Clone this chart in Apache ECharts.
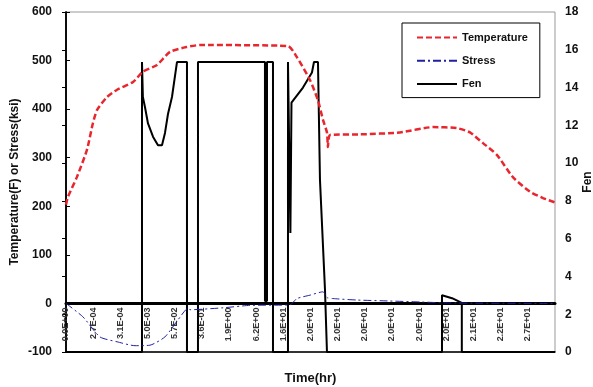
<!DOCTYPE html>
<html>
<head>
<meta charset="utf-8">
<script src="https://cdn.jsdelivr.net/npm/echarts@6/dist/echarts.min.js"></script>
<style>
  html, body { margin: 0; padding: 0; background: #fff; }
  #chart { width: 593px; height: 387px; }
</style>
</head>
<body>
<div id="chart"></div>
<script>
// tick labels of the time axis (one per category step)
const timeLabels = ['0.0E+00', '2.7E-04', '3.1E-04', '5.0E-03', '5.7E-02', '3.6E-01',
  '1.9E+00', '6.2E+00', '1.6E+01', '2.0E+01', '2.0E+01', '2.0E+01', '2.0E+01',
  '2.0E+01', '2.0E+01', '2.1E+01', '2.2E+01', '2.7E+01'];

// [position along time axis (step index), value]
const temperature = [
  [0, 203], [0.07, 219], [0.4, 260], [0.77, 316], [0.99, 371], [1.14, 398],
  [1.51, 425], [1.88, 440], [2.47, 456], [2.83, 477], [3.35, 491], [3.83, 518],
  [4.45, 528], [4.93, 532], [8.17, 530], [8.5, 507], [8.98, 460], [9.27, 419],
  [9.46, 378], [9.61, 351], [9.64, 322], [9.72, 347], [10.82, 348], [12.29, 352],
  [13.51, 363], [14.39, 361], [14.87, 352], [15.35, 330], [15.86, 306],
  [16.45, 260], [17.08, 230], [17.56, 217], [18, 208]
];

const stress = [
  [0, 0], [0.63, -28], [1.25, -69], [1.88, -79], [2.54, -87], [3.09, -86],
  [3.64, -69], [4.12, -34], [4.49, -10], [4.56, -13], [5.78, -9], [6.77, -4],
  [8.24, -3], [8.5, 10], [8.98, 17], [9.46, 24], [9.61, 12], [9.83, 10],
  [10.71, 7], [11.92, 5], [13.03, 3], [14.13, 1], [18, 0]
];

const fen = [
  [0, 0], [2.797, 0], [2.797, 15.35], [2.83, 13.5], [2.908, 12.96], [3.018, 12.1],
  [3.202, 11.4], [3.386, 10.95], [3.533, 10.95], [3.644, 11.6], [3.754, 12.6],
  [3.901, 13.5], [4.085, 15.35], [4.453, 15.35], [4.453, 0], [4.858, 0],
  [4.858, 15.35], [7.324, 15.35], [7.324, 2.7], [7.398, 2.7], [7.398, 15.35],
  [7.619, 15.35], [7.619, 0], [8.171, 0], [8.171, 15.35], [8.23, 15.35],
  [8.26, 6.3], [8.3, 13.2], [8.723, 14.0], [9.054, 14.8],
  [9.128, 15.35], [9.275, 15.35], [9.349, 9.1], [9.533, 3.3], [9.606, 0],
  [13.84, 0], [13.84, 3.0], [14.21, 2.85], [14.57, 2.6], [14.57, 0], [18, 0]
];

const yMin = -100, yMax = 600;
const gridTop = 12, gridBottom = 35, chartH = 387;
// lift the labelled time axis up to the zero line of the left axis
const zeroOffset = -(chartH - gridTop - gridBottom) * (0 - yMin) / (yMax - yMin);

const chart = echarts.init(document.getElementById('chart'));
const axisFont = { color: '#111', fontWeight: 'bold', fontSize: 12, fontFamily: 'Liberation Sans, Arial' };

chart.setOption({
  animation: false,
  textStyle: { fontFamily: 'Liberation Sans, Arial' },
  grid: {
    left: 66, right: 38, top: gridTop, bottom: gridBottom,
    outerBoundsMode: 'none',
    containLabel: false,
    show: true, borderColor: '#999', borderWidth: 1
  },
  legend: {
    orient: 'vertical',
    left: 402, top: 23,
    padding: [9, 12, 8, 14],
    itemGap: 12,
    itemWidth: 40, itemHeight: 14,
    borderColor: '#000', borderWidth: 1,
    backgroundColor: '#fff',
    itemStyle: { opacity: 0 },
    textStyle: { color: '#111', fontWeight: 'bold', fontSize: 11 },
    data: ['Temperature', 'Stress', 'Fen']
  },
  xAxis: [
    {
      type: 'value',
      min: 0, max: 18, interval: 1,
      position: 'bottom',
      offset: zeroOffset,
      name: 'Time(hr)',
      nameLocation: 'middle',
      nameGap: 68,
      nameMoveOverlap: false,
      nameTextStyle: { color: '#111', fontWeight: 'bold', fontSize: 13 },
      axisLine: { onZero: false, lineStyle: { color: '#000', width: 3 } },
      axisTick: { show: false },
      splitLine: { show: false },
      axisLabel: {
        rotate: 90, fontSize: 9, fontWeight: 'bold', color: '#333', margin: 4,
        showMaxLabel: false,
        formatter: (v) => timeLabels[Math.round(v)] || ''
      }
    },
    {
      type: 'value', min: 0, max: 18, position: 'bottom',
      axisLine: { onZero: false, lineStyle: { color: '#000', width: 1.5 } },
      axisTick: { show: false }, axisLabel: { show: false }, splitLine: { show: false }
    }
  ],
  yAxis: [
    {
      type: 'value',
      min: yMin, max: yMax, interval: 100,
      name: 'Temperature(F) or Stress(ksi)',
      nameLocation: 'middle',
      nameRotate: 90,
      nameGap: 45,
      nameMoveOverlap: false,
      nameTextStyle: { color: '#111', fontWeight: 'bold', fontSize: 12 },
      axisLine: { show: true, lineStyle: { color: '#000', width: 1.5 } },
      axisTick: { show: true, inside: true, length: 4, lineStyle: { color: '#000' } },
      splitLine: { show: false },
      axisLabel: Object.assign({ margin: 14 }, axisFont)
    },
    {
      type: 'value',
      min: 0, max: 18, interval: 2,
      position: 'right',
      name: 'Fen',
      nameLocation: 'middle',
      nameRotate: 90,
      nameGap: 27,
      nameMoveOverlap: false,
      nameTextStyle: { color: '#111', fontWeight: 'bold', fontSize: 12 },
      axisLine: { show: true, lineStyle: { color: '#000', width: 1.5 } },
      axisTick: { show: true, inside: true, length: 4, lineStyle: { color: '#000' } },
      splitLine: { show: false },
      axisLabel: Object.assign({ margin: 10 }, axisFont)
    }
  ],
  series: [
    {
      name: 'Temperature',
      type: 'line',
      yAxisIndex: 0,
      data: temperature,
      symbol: 'none',
      smooth: 0.2,
      lineStyle: { color: '#e8262e', width: 2.5, type: [6, 3] },
      itemStyle: { color: '#e8262e' },
      z: 3
    },
    {
      name: 'Stress',
      type: 'line',
      yAxisIndex: 0,
      data: stress,
      symbol: 'none',
      smooth: 0.2,
      lineStyle: { color: '#2020a0', width: 1, type: [8, 3, 2, 3] },
      itemStyle: { color: '#2020a0' },
      z: 4
    },
    {
      name: 'Fen',
      type: 'line',
      yAxisIndex: 1,
      data: fen,
      symbol: 'none',
      lineStyle: { color: '#000', width: 2 },
      itemStyle: { color: '#000' },
      z: 2
    }
  ]
});
</script>
</body>
</html>
